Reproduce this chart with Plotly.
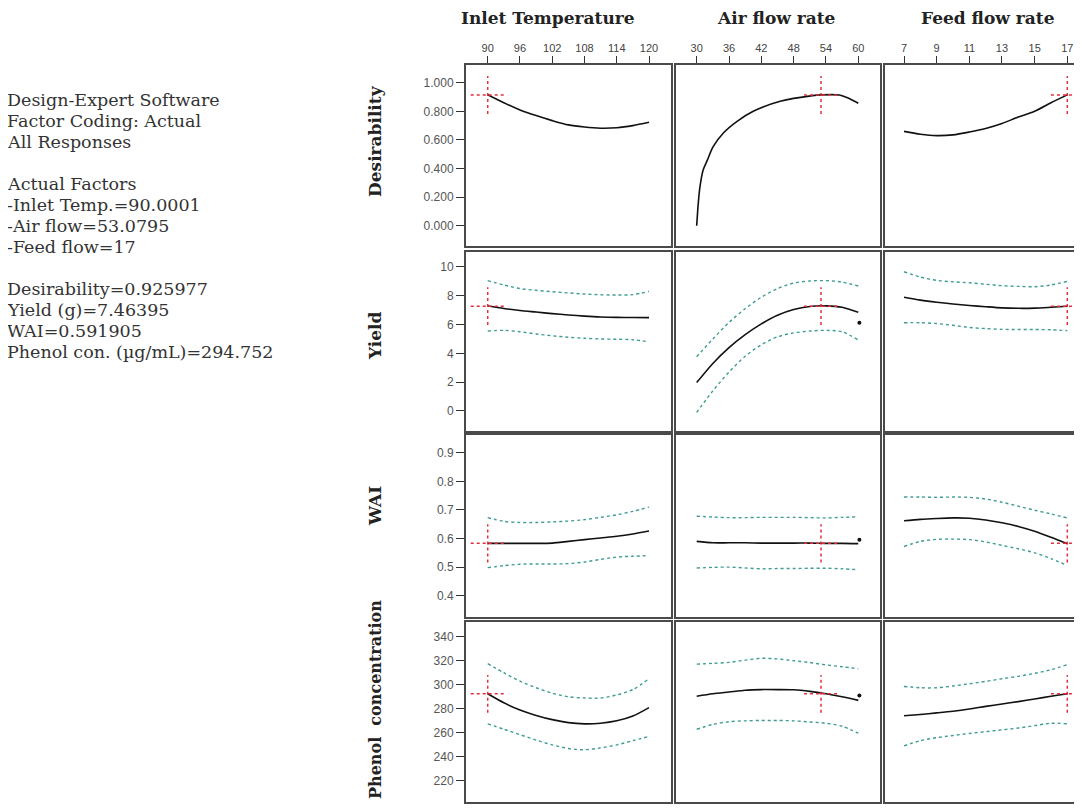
import plotly.graph_objects as go

# ---------------- data ----------------
factor_names = ["Inlet Temperature", "Air flow rate", "Feed flow rate"]
response_names = ["Desirability", "Yield", "WAI", "Phenol  concentration"]

temp_x = [90, 93, 96, 99, 102, 105, 108, 111, 114, 117, 120]
air_x = [30, 33, 36, 39, 42, 45, 48, 51, 54, 57, 60]
feed_x = [7, 8, 9, 10, 11, 12, 13, 14, 15, 16, 17]

# Desirability
des_temp = [0.916, 0.86, 0.81, 0.77, 0.735, 0.705, 0.69, 0.682, 0.685, 0.70, 0.723]
des_air_x = [30, 30.3, 30.6, 31.2, 32, 33, 35, 37.5, 40.5, 45.5, 51.5, 53.08, 56.5, 58, 60]
des_air = [0.0, 0.16, 0.27, 0.39, 0.46, 0.55, 0.65, 0.73, 0.80, 0.87, 0.91, 0.915, 0.914, 0.895, 0.856]
des_feed = [0.66, 0.64, 0.63, 0.635, 0.655, 0.68, 0.715, 0.76, 0.80, 0.86, 0.915]

# Yield (mean, upper CI, lower CI)
yld_temp = [7.29, 7.12, 6.98, 6.87, 6.76, 6.67, 6.59, 6.53, 6.50, 6.49, 6.48]
yld_temp_hi = [9.05, 8.75, 8.5, 8.38, 8.28, 8.2, 8.12, 8.07, 8.05, 8.08, 8.3]
yld_temp_lo = [5.55, 5.6, 5.5, 5.35, 5.22, 5.12, 5.05, 5.0, 4.98, 4.95, 4.8]
yld_air = [1.97, 3.3, 4.4, 5.3, 6.05, 6.65, 7.05, 7.26, 7.3, 7.2, 6.85]
yld_air_hi = [3.77, 5.0, 6.15, 7.1, 7.9, 8.5, 8.88, 9.03, 9.05, 8.95, 8.68]
yld_air_lo = [-0.1, 1.4, 2.7, 3.8, 4.6, 5.15, 5.42, 5.55, 5.6, 5.5, 4.93]
yld_feed = [7.9, 7.7, 7.55, 7.43, 7.33, 7.24, 7.16, 7.13, 7.14, 7.2, 7.27]
yld_feed_hi = [9.67, 9.3, 9.07, 8.97, 8.9, 8.8, 8.7, 8.65, 8.63, 8.75, 9.0]
yld_feed_lo = [6.13, 6.13, 6.07, 5.95, 5.8, 5.72, 5.67, 5.66, 5.66, 5.64, 5.58]

# WAI
wai_temp = [0.583, 0.583, 0.583, 0.583, 0.584, 0.59, 0.596, 0.602, 0.608, 0.616, 0.626]
wai_temp_hi = [0.673, 0.66, 0.656, 0.656, 0.658, 0.661, 0.666, 0.674, 0.683, 0.695, 0.71]
wai_temp_lo = [0.498, 0.505, 0.51, 0.511, 0.511, 0.512, 0.518, 0.527, 0.535, 0.538, 0.54]
wai_air = [0.590, 0.585, 0.585, 0.585, 0.584, 0.584, 0.584, 0.584, 0.583, 0.583, 0.582]
wai_air_hi = [0.678, 0.675, 0.673, 0.673, 0.674, 0.674, 0.674, 0.673, 0.672, 0.674, 0.676]
wai_air_lo = [0.497, 0.499, 0.5, 0.497, 0.494, 0.495, 0.495, 0.496, 0.496, 0.494, 0.491]
wai_feed = [0.662, 0.667, 0.67, 0.672, 0.671, 0.665, 0.655, 0.642, 0.625, 0.604, 0.582]
wai_feed_hi = [0.745, 0.745, 0.744, 0.745, 0.744, 0.738, 0.727, 0.713, 0.699, 0.686, 0.672]
wai_feed_lo = [0.572, 0.59, 0.597, 0.598, 0.596, 0.588, 0.576, 0.564, 0.55, 0.53, 0.505]

# Phenol concentration
phe_temp = [292.5, 285, 279, 274.5, 271, 268.5, 267.5, 268, 270, 274, 281]
phe_temp_hi = [317.5, 310, 303, 297.5, 293, 290, 289, 289, 291.5, 296, 305]
phe_temp_lo = [267.5, 263, 258.5, 254, 250, 247, 246, 247.5, 250, 253.5, 257]
phe_air = [290.5, 292.5, 294, 295.5, 296, 296, 295.8, 294.5, 292.5, 290, 287]
phe_air_hi = [317.2, 317.8, 318.6, 320.5, 322, 321.5, 320, 318.5, 316.5, 315, 313.3]
phe_air_lo = [263, 267, 269.3, 270, 270.3, 270.3, 270, 269, 268, 265.5, 259.7]
phe_feed = [274.2, 275.3, 276.6, 278, 279.8, 282, 284, 286, 288.2, 290.4, 292.5]
phe_feed_hi = [298.6, 297.5, 297.5, 299, 300.8, 302.8, 305, 307, 309.5, 312.5, 316.7]
phe_feed_lo = [249.2, 253.5, 256, 257.8, 259.5, 261, 262.5, 264, 266, 268, 267.5]

# current optimum (crosshair) values
factor_current = [90.0001, 53.0795, 17]
response_current = [0.915, 7.28, 0.583, 292.5]

# design point markers shown at the end of the air-flow panels
air_point_x = 60.2
air_point_y = [None, 6.13, 0.596, 291]

# axis ticks
x_ticks = [[90, 96, 102, 108, 114, 120], [30, 36, 42, 48, 54, 60], [7, 9, 11, 13, 15, 17]]
y_ticks = [[0, 0.2, 0.4, 0.6, 0.8, 1.0], [0, 2, 4, 6, 8, 10],
           [0.4, 0.5, 0.6, 0.7, 0.8, 0.9], [220, 240, 260, 280, 300, 320, 340]]
y_tick_fmt = ["{:.3f}", "{:d}", "{:.1f}", "{:d}"]

info_lines = ["Design-Expert Software", "Factor Coding: Actual", "All Responses", "",
              "Actual Factors", "-Inlet Temp.=90.0001", "-Air flow=53.0795", "-Feed flow=17", "",
              "Desirability=0.925977", "Yield (g)=7.46395", "WAI=0.591905",
              "Phenol con. (µg/mL)=294.752"]

# ---------------- layout geometry (page pixels; the page body adds an 8px margin) ----------------
OFF = 8
W, H = 1082 - OFF, 808 - OFF
col_px = [(466, 671), (676, 880), (885, 1082)]
row_px = [(65, 246), (252, 431), (435, 617), (622, 802)]
x_ranges = [[85.96, 124.09], [26.16, 64.03], [5.836, 17.9]]
y_ranges = [[-0.142, 1.124], [-1.39, 11.04], [0.3255, 0.962], [202.5, 352.2]]


def px_x(p):
    return (p - OFF) / W


def px_y(p):
    return 1 - (p - OFF) / H


curves = {
    (0, 0): (temp_x, des_temp, None, None),
    (0, 1): (des_air_x, des_air, None, None),
    (0, 2): (feed_x, des_feed, None, None),
    (1, 0): (temp_x, yld_temp, yld_temp_hi, yld_temp_lo),
    (1, 1): (air_x, yld_air, yld_air_hi, yld_air_lo),
    (1, 2): (feed_x, yld_feed, yld_feed_hi, yld_feed_lo),
    (2, 0): (temp_x, wai_temp, wai_temp_hi, wai_temp_lo),
    (2, 1): (air_x, wai_air, wai_air_hi, wai_air_lo),
    (2, 2): (feed_x, wai_feed, wai_feed_hi, wai_feed_lo),
    (3, 0): (temp_x, phe_temp, phe_temp_hi, phe_temp_lo),
    (3, 1): (air_x, phe_air, phe_air_hi, phe_air_lo),
    (3, 2): (feed_x, phe_feed, phe_feed_hi, phe_feed_lo),
}

CI_COLOR = "#3f9c95"
RED = "#e0303e"
BORDER = "#4a4a4a"

fig = go.Figure()
layout = dict(width=W, height=H, margin=dict(l=0, r=0, t=0, b=0),
              paper_bgcolor="white", plot_bgcolor="white", showlegend=False)

for r in range(4):
    for c in range(3):
        i = r * 3 + c + 1
        xs = "" if i == 1 else str(i)
        xref, yref = "x" + xs, "y" + xs
        x, m, hi, lo = curves[(r, c)]
        for band in (hi, lo):
            if band is not None:
                fig.add_trace(go.Scatter(x=x, y=band, mode="lines", xaxis=xref, yaxis=yref,
                                         line=dict(color=CI_COLOR, width=1.4, dash="dot", shape="spline",
                                                   smoothing=0.8), hoverinfo="skip"))
        fig.add_trace(go.Scatter(x=x, y=m, mode="lines", xaxis=xref, yaxis=yref,
                                 line=dict(color="#111111", width=1.6, shape="spline", smoothing=0.8)))
        # crosshair
        xspan = x_ranges[c][1] - x_ranges[c][0]
        yspan = y_ranges[r][1] - y_ranges[r][0]
        cx, cy = factor_current[c], response_current[r]
        hx, hy = 0.083 * xspan, 0.105 * yspan
        fig.add_trace(go.Scatter(x=[cx - hx, cx + hx], y=[cy, cy], mode="lines", xaxis=xref, yaxis=yref,
                                 line=dict(color=RED, width=1.5, dash="dot")))
        fig.add_trace(go.Scatter(x=[cx, cx], y=[cy - hy, cy + hy], mode="lines", xaxis=xref, yaxis=yref,
                                 line=dict(color=RED, width=1.5, dash="dot")))
        if c == 1 and air_point_y[r] is not None:
            fig.add_trace(go.Scatter(x=[air_point_x], y=[air_point_y[r]], mode="markers",
                                     xaxis=xref, yaxis=yref, cliponaxis=False,
                                     marker=dict(color="#111111", size=4)))

        xd = [px_x(col_px[c][0]), min(1.0, px_x(col_px[c][1]))]
        yd = [px_y(row_px[r][1]), px_y(row_px[r][0])]
        xa = dict(domain=xd, range=x_ranges[c], anchor=yref, showgrid=False, zeroline=False,
                  showline=True, linecolor=BORDER, linewidth=2, mirror=True)
        if r == 0:
            xa.update(side="top", ticks="outside", ticklen=7, tickwidth=1, tickcolor="#333",
                      tickvals=x_ticks[c], showticklabels=True,
                      tickfont=dict(family="Liberation Sans, Arial", size=11, color="#444"))
        else:
            xa.update(showticklabels=False, ticks="")
        ya = dict(domain=yd, range=y_ranges[r], anchor=xref, showgrid=False, zeroline=False,
                  showline=True, linecolor=BORDER, linewidth=2, mirror=(c < 2))
        if c == 0:
            ya.update(ticks="outside", ticklen=8, tickwidth=1, tickcolor="#333",
                      tickvals=y_ticks[r], ticktext=[y_tick_fmt[r].format(v) for v in y_ticks[r]],
                      showticklabels=True,
                      tickfont=dict(family="Liberation Sans, Arial", size=12, color="#555"))
        else:
            ya.update(showticklabels=False, ticks="")
        layout["xaxis" + xs] = xa
        layout["yaxis" + xs] = ya

annotations = []
title_x_px = [548, 776, 988]
for c, name in enumerate(factor_names):
    annotations.append(dict(text="<b>%s</b>" % name, x=px_x(title_x_px[c]), y=px_y(18),
                            xref="paper", yref="paper", showarrow=False,
                            xanchor="center", yanchor="middle",
                            font=dict(family="DejaVu Serif", size=17, color="#222")))
row_title_y_px = [141, 336, 506, 700]
row_title_size = [17, 17, 17, 16]
for r, name in enumerate(response_names):
    annotations.append(dict(text="<b>%s</b>" % name, x=px_x(375), y=px_y(row_title_y_px[r]),
                            xref="paper", yref="paper", showarrow=False, textangle=-90,
                            xanchor="center", yanchor="middle",
                            font=dict(family="DejaVu Serif", size=row_title_size[r], color="#222")))
for k, line in enumerate(info_lines):
    if line:
        annotations.append(dict(text=line, x=px_x(5), y=px_y(100 + 21 * k), xref="paper", yref="paper",
                                showarrow=False, xanchor="left", yanchor="middle",
                                font=dict(family="DejaVu Serif", size=17.5, color="#333")))
layout["annotations"] = annotations
fig.update_layout(**layout)
fig.write_html("out.html")
